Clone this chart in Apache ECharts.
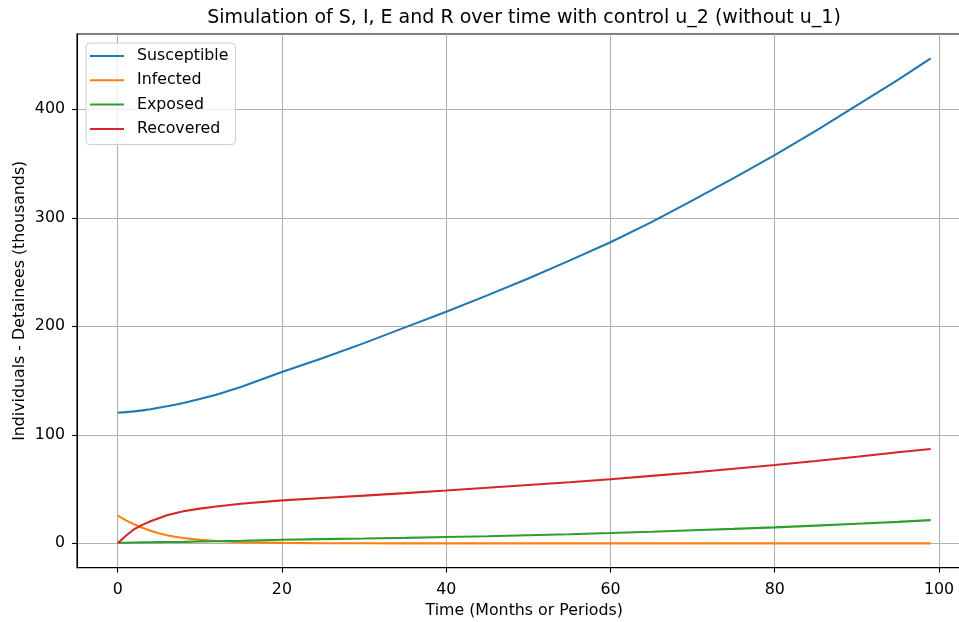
<!DOCTYPE html>
<html>
<head>
<meta charset="utf-8">
<script src="https://cdn.jsdelivr.net/npm/echarts@6/dist/echarts.min.js"></script>
<style>
html,body{margin:0;padding:0;background:#fff;}
#chart{width:959px;height:622px;}
</style>
</head>
<body>
<div id="chart"></div>
<script>
// Time points (months / periods)
var time = [0,1,2,3,4,5,6,7,8,10,12,15,20,25,30,35,40,45,50,55,60,65,70,75,80,85,90,95,99];
// Series values (thousands)
var susceptible = [120.4,120.9,121.6,122.5,123.6,124.9,126.3,127.8,129.4,133,137,144,157.8,170.8,184.5,199,213.5,228.5,244,260.5,277.5,296,316,336.5,357.7,380,403.5,427,447];
var infected    = [25.6,21.2,17.6,14.4,11.6,9.3,7.5,6.1,4.9,3.2,2.1,1.1,0.4,0.15,0.05,0,0,0,0,0,0,0,0,0,0,0,0,0,0];
var exposed     = [0.5,0.6,0.8,0.9,1.0,1.1,1.2,1.3,1.4,1.7,2.0,2.4,3.3,3.9,4.4,5.0,5.8,6.6,7.5,8.4,9.5,10.7,12.0,13.3,14.7,16.3,18.0,19.8,21.4];
var recovered   = [0,7,13,17,20.3,23.2,25.8,27.8,29.5,32,34,36.5,39.6,41.8,44,46.3,48.7,51.2,53.7,56.3,59.1,62.2,65.3,68.7,72.2,75.9,79.8,84,87];
// Tick labels
var xTicks = [0,20,40,60,80,100];
var yTicks = [0,100,200,300,400];
var seriesNames = ['Susceptible','Infected','Exposed','Recovered'];
var seriesColors = ['#1f77b4','#ff7f0e','#2ca02c','#d62728'];

function pairs(ys){ return time.map(function(t,i){ return [t, ys[i]]; }); }
var allValues = [susceptible, infected, exposed, recovered];

var FONT = 'DejaVu Sans';
var FS = 15.8;
var chart = echarts.init(document.getElementById('chart'), null, {renderer:'canvas'});
chart.setOption({
  animation: false,
  backgroundColor: '#ffffff',
  textStyle: {fontFamily: FONT},
  title: {
    text: 'Simulation of S, I, E and R over time with control u_2 (without u_1)',
    left: 524, top: 9, textAlign: 'center', padding: 0,
    textStyle: {fontFamily: FONT, fontSize: 19, fontWeight: 'normal', color: '#000'}
  },
  legend: {
    orient: 'vertical', left: 86, top: 43,
    padding: [4, 7, 6.7, 4],
    itemWidth: 34, itemHeight: 2, itemGap: 6.3,
    icon: 'rect',
    backgroundColor: 'rgba(255,255,255,0.8)',
    borderColor: '#cccccc', borderWidth: 1, borderRadius: 4,
    textStyle: {fontFamily: FONT, fontSize: FS, color: '#000', lineHeight: 18, padding: [0,0,0,8]},
    data: seriesNames
  },
  grid: {
    left: 77, top: 34, width: 894.4, height: 533.6,
    outerBoundsMode: 'none',
    show: true, borderColor: '#000', borderWidth: 1.1, containLabel: false
  },
  xAxis: {
    type: 'value', min: -4.95, max: 103.95, splitNumber: 5,
    name: 'Time (Months or Periods)', nameLocation: 'middle', nameGap: 35, nameMoveOverlap: false,
    nameTextStyle: {fontFamily: FONT, fontSize: FS, color: '#000'},
    axisLine: {show: true, onZero: false, lineStyle: {color: '#000', width: 1.1}},
    axisTick: {show: true, length: 5, lineStyle: {color: '#000', width: 1.1}, customValues: xTicks},
    axisLabel: {fontFamily: FONT, fontSize: FS, color: '#000', margin: 14, customValues: xTicks},
    splitLine: {show: true, lineStyle: {color: '#b0b0b0', width: 1.1}}
  },
  yAxis: {
    type: 'value', min: -22.35, max: 469.35, splitNumber: 5,
    name: 'Individuals - Detainees (thousands)', nameLocation: 'middle', nameGap: 49, nameMoveOverlap: false,
    nameTextStyle: {fontFamily: FONT, fontSize: FS, color: '#000'},
    axisLine: {show: true, onZero: false, lineStyle: {color: '#000', width: 1.1}},
    axisTick: {show: true, length: 5, lineStyle: {color: '#000', width: 1.1}, customValues: yTicks},
    axisLabel: {fontFamily: FONT, fontSize: FS, color: '#000', margin: 12, customValues: yTicks},
    splitLine: {show: true, lineStyle: {color: '#b0b0b0', width: 1.1}}
  },
  series: seriesNames.map(function(n, i){
    return {
      name: n, type: 'line', data: pairs(allValues[i]),
      showSymbol: false, symbol: 'none', smooth: false,
      color: seriesColors[i],
      lineStyle: {color: seriesColors[i], width: 2.1},
      emphasis: {disabled: true}, silent: true, z: 3 + i
    };
  })
});
</script>
</body>
</html>
